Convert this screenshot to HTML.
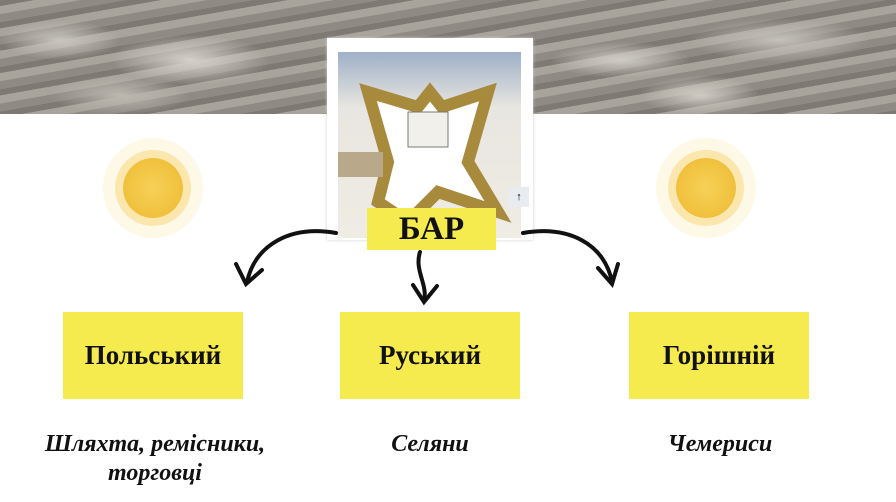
<!DOCTYPE html><html><head><meta charset="utf-8"><style>
body{margin:0;width:896px;height:502px;position:relative;overflow:hidden;background:#fff;font-family:"Liberation Serif",serif}
.stone{position:absolute;left:0;top:0;width:896px;height:114px;background:
radial-gradient(ellipse 60px 20px at 60px 40px,#c9c6bf,transparent),
radial-gradient(ellipse 80px 25px at 190px 60px,#d6d2cb,transparent),
radial-gradient(ellipse 70px 18px at 620px 60px,#cfccc5,transparent),
radial-gradient(ellipse 90px 22px at 780px 40px,#c4c1ba,transparent),
radial-gradient(ellipse 60px 20px at 700px 95px,#d0ccc4,transparent),
radial-gradient(ellipse 70px 20px at 120px 95px,#bdb9b1,transparent),
repeating-linear-gradient(170deg,#7e7a73 0 6px,#a8a49c 6px 14px,#8f8b84 14px 22px),#999}
.box{position:absolute;background:#f5ea4e;font-weight:bold;font-size:27px;display:flex;align-items:center;justify-content:center;color:#111}
.t{position:absolute;font-style:italic;font-weight:bold;font-size:24px;text-align:center;color:#111;line-height:29px}
.sun{position:absolute;width:60px;height:60px;border-radius:50%;background:radial-gradient(#f6d157,#eeb931);box-shadow:0 0 0 8px rgba(245,200,70,.35),0 0 0 20px rgba(245,210,90,.15)}
</style></head><body>
<div class="stone"></div>
<div class="sun" style="left:123px;top:158px"></div>
<div class="sun" style="left:676px;top:158px"></div>
<div style="position:absolute;left:327px;top:38px;width:206px;height:202px;background:#fff;box-shadow:0 0 3px #ccc"></div>
<div style="position:absolute;left:338px;top:52px;width:183px;height:186px;background:linear-gradient(#9fb0c8,#e8e6e0 30%,#efece4)">
<svg width="183" height="186" viewBox="0 0 183 186"><polygon points="30,40 80,55 92,40 104,55 150,40 130,110 160,160 100,140 70,170 40,150 50,110" fill="#fff" stroke="#a88a3c" stroke-width="12"/><rect x="70" y="60" width="40" height="35" fill="#f2f0ea" stroke="#777"/><rect x="0" y="100" width="45" height="25" fill="#b9a98a"/></svg></div>
<div style="position:absolute;left:509px;top:187px;width:20px;height:20px;background:#e8ecf0;font-size:11px;text-align:center;line-height:20px">↑</div>
<div class="box" style="left:367px;top:208px;width:129px;height:42px;font-size:33px">БАР</div>
<svg style="position:absolute;left:0;top:0" width="896" height="502"><g fill="none" stroke="#111" stroke-width="4" stroke-linecap="round">
<path d="M336 233 C290 225 255 245 247 282"/><path d="M236 264 L246 284 L262 270"/>
<path d="M420 252 C414 270 428 285 424 300"/><path d="M413 285 L424 302 L437 286"/>
<path d="M523 233 C570 225 605 245 612 282"/><path d="M598 268 L612 284 L618 264"/></g></svg>
<div class="box" style="left:63px;top:312px;width:180px;height:87px">Польський</div>
<div class="box" style="left:340px;top:312px;width:180px;height:87px">Руський</div>
<div class="box" style="left:629px;top:312px;width:180px;height:87px">Горішній</div>
<div class="t" style="left:10px;top:430px;width:290px">Шляхта, ремісники,<br>торговці</div>
<div class="t" style="left:330px;top:430px;width:200px">Селяни</div>
<div class="t" style="left:620px;top:430px;width:200px">Чемериси</div>
</body></html>
